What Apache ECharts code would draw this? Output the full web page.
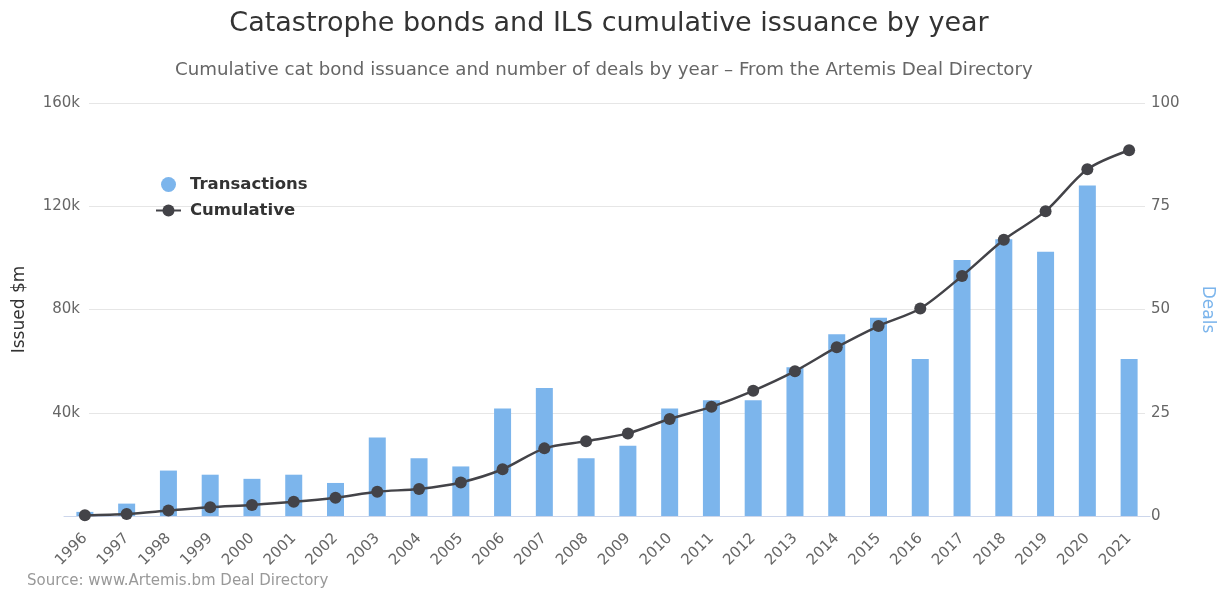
<!DOCTYPE html>
<html>
<head>
<meta charset="utf-8">
<script src="https://cdn.jsdelivr.net/npm/echarts@6/dist/echarts.min.js"></script>
<style>
html,body{margin:0;padding:0;background:#fff;}
#chart{width:1218px;height:590px;}
</style>
</head>
<body>
<div id="chart"></div>
<script>
const years = ['1996','1997','1998','1999','2000','2001','2002','2003','2004','2005','2006','2007','2008','2009','2010','2011','2012','2013','2014','2015','2016','2017','2018','2019','2020','2021'];
const deals = [1,3,11,10,9,10,8,19,14,12,26,31,14,17,26,28,28,36,44,48,38,62,67,64,80,38];
const cumulative = [300,800,2100,3400,4300,5500,7100,9400,10500,13000,18100,26200,29000,32000,37600,42300,48500,56100,65400,73600,80400,93000,107000,118100,134300,141700];
const leftTicks = {min:0, max:160000, interval:40000};
const rightTicks = {min:0, max:100, interval:25};

const FONT = '"DejaVu Sans", Verdana, sans-serif';
const chart = echarts.init(document.getElementById('chart'));
chart.setOption({
  animation:false,
  backgroundColor:'#ffffff',
  title:[
    {text:'Catastrophe bonds and ILS cumulative issuance by year', left:'center', top:5,
     textStyle:{fontFamily:FONT, fontSize:27, fontWeight:'normal', color:'#333333'}},
    {text:'Cumulative cat bond issuance and number of deals by year – From the Artemis Deal Directory', left:170, top:56,
     textStyle:{fontFamily:FONT, fontSize:18.2, fontWeight:'normal', color:'#666666'}}
  ],
  legend:{
    orient:'vertical', left:150, top:171, itemGap:9, itemWidth:25, itemHeight:15,
    textStyle:{fontFamily:FONT, fontSize:16.5, fontWeight:'bold', color:'#333333', padding:[0,0,0,4]},
    data:[{name:'Transactions', icon:'circle'}, {name:'Cumulative'}]
  },
  graphic:[{type:'text', left:27, top:574, style:{text:'Source: www.Artemis.bm Deal Directory', fill:'#999999', font:'15px '+FONT}}],
  grid:[
    {left:89, right:73, top:103, bottom:74, outerBoundsMode:'none', containLabel:false},
    {left:64, right:68, top:103, bottom:74, outerBoundsMode:'none', containLabel:false}
  ],
  xAxis:[
    {gridIndex:0, type:'value', show:false, min:0, max:1},
    {gridIndex:1, type:'category', data:years, boundaryGap:true,
     axisLine:{lineStyle:{color:'#ccd6eb', width:1}}, axisTick:{show:false},
     axisLabel:{rotate:45, interval:0, margin:20, color:'#666666', fontFamily:FONT, fontSize:15}}
  ],
  yAxis:[
    {gridIndex:0, type:'value', position:'left', min:leftTicks.min, max:leftTicks.max, interval:leftTicks.interval,
     name:'Issued $m', nameLocation:'middle', nameGap:61, nameTextStyle:{color:'#333333', fontFamily:FONT, fontSize:17},
     axisLine:{show:false}, axisTick:{show:false},
     axisLabel:{margin:9, color:'#666666', fontFamily:FONT, fontSize:15, formatter:v => v === 0 ? '' : (v/1000)+'k'},
     splitLine:{lineStyle:{color:'#e6e6e6', width:1}}},
    {gridIndex:0, type:'value', position:'right', min:rightTicks.min, max:rightTicks.max, interval:rightTicks.interval,
     name:'Deals', nameLocation:'middle', nameGap:54, nameRotate:-90, nameTextStyle:{color:'#7cb5ec', fontFamily:FONT, fontSize:17},
     axisLine:{show:false}, axisTick:{show:false},
     axisLabel:{margin:6, color:'#666666', fontFamily:FONT, fontSize:15},
     splitLine:{show:false}},
    {gridIndex:1, type:'value', show:false, min:leftTicks.min, max:leftTicks.max, splitLine:{show:false}},
    {gridIndex:1, type:'value', show:false, min:rightTicks.min, max:rightTicks.max, splitLine:{show:false}}
  ],
  series:[
    {name:'Transactions', type:'bar', xAxisIndex:1, yAxisIndex:3, data:deals, barWidth:17,
     itemStyle:{color:'#7cb5ec'}},
    {name:'Cumulative', type:'line', xAxisIndex:1, yAxisIndex:2, data:cumulative, smooth:0.3,
     symbol:'circle', symbolSize:12, lineStyle:{color:'#434348', width:2.5}, itemStyle:{color:'#434348'}, z:5}
  ]
});
</script>
</body>
</html>
